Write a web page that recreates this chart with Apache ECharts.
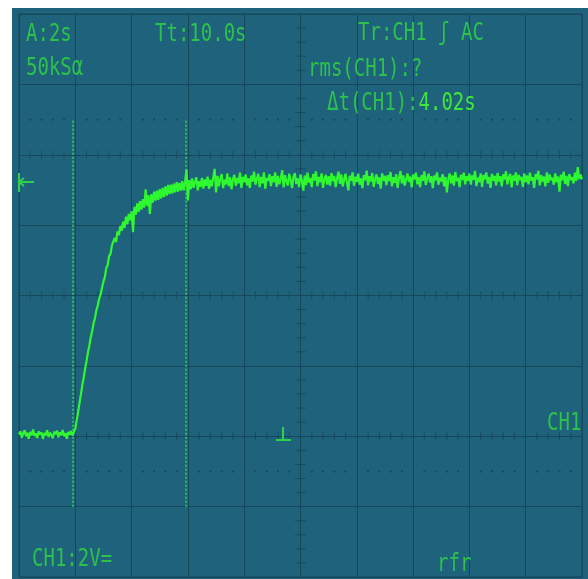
<!DOCTYPE html>
<html><head><meta charset="utf-8">
<script src="https://cdn.jsdelivr.net/npm/echarts@6/dist/echarts.min.js"></script>
<style>
html,body{margin:0;padding:0;background:#ffffff;width:588px;height:579px;overflow:hidden;position:relative;}
#c{position:absolute;left:12px;top:8px;width:576px;height:571px;}
</style>
</head><body><div id="c"></div>
<script>
// ---- data ----
const sampleInterval = 0.05; // seconds between samples
const timeRange = [0, 20];   // 10 div x 2 s
const timeDiv = 2;
const voltRange = [-4, 12];  // 8 div x 2 V, ground 2 div below centre
const voltDiv = 2;

// CH1 volts, t = 0.00 .. 1.90
const groundTrace = [0.05,0.14,-0.04,0.09,0.17,0.00,0.10,-0.07,0.12,0.03,0.19,0.01,0.08,-0.05,0.14,0.05,0.11,-0.08,0.09,0.02,
  0.17,-0.02,0.10,0.04,-0.06,0.13,0.06,0.16,-0.03,0.11,0.03,0.18,0.00,0.09,-0.07,0.12,0.05,0.15,0.02];
// t = 1.95 .. 6.00
const riseTrace = [0.06,0.22,0.46,0.69,0.95,1.19,1.46,1.67,1.93,2.14,2.39,2.58,2.82,2.99,3.22,3.37,3.58,3.72,3.92,4.03,
  4.22,4.40,4.52,4.78,4.86,5.12,5.18,5.42,5.38,5.64,5.52,5.82,5.72,5.98,5.84,6.10,5.92,6.24,6.02,6.32,
  6.14,6.40,5.80,6.52,6.30,6.62,6.38,6.68,6.44,6.74,6.50,7.02,6.55,6.85,6.32,6.88,6.64,6.95,6.70,6.98,
  6.72,7.02,6.76,7.06,6.80,7.10,6.84,7.14,6.88,7.15,6.90,7.18,6.93,7.22,6.95,7.20,6.98,7.25,6.99,7.22,
  7.58,6.70];
// t = 6.05 .. 20.00
const plateauTrace = [
  7.28,7.02,7.33,7.06,7.22,7.36,6.99,7.25,7.09,7.34,7.04,7.30,7.12,7.38,7.03,7.29,7.10,7.35,7.60,6.93,
  7.40,7.10,7.31,7.45,7.05,7.29,7.16,7.47,7.11,7.36,7.02,7.30,7.43,7.12,7.34,7.19,7.49,7.06,7.37,7.22,
  7.44,7.13,7.33,7.06,7.41,7.24,7.52,7.15,7.31,7.46,7.08,7.37,7.19,7.50,7.04,7.34,7.26,7.45,7.11,7.39,
  7.22,7.50,7.09,7.40,7.16,7.32,7.56,7.07,7.42,7.25,7.12,7.46,7.28,7.05,7.37,7.48,7.17,7.33,7.08,7.44,
  7.26,6.98,7.41,7.14,7.49,7.21,7.34,7.08,7.45,7.27,7.53,7.11,7.37,7.22,7.47,7.06,7.31,7.43,7.15,7.39,
  7.12,7.48,7.25,7.40,7.08,7.33,7.52,7.17,7.44,7.10,7.30,7.46,7.21,6.99,7.40,7.26,7.50,7.12,7.37,7.23,
  7.46,7.15,7.33,7.05,7.42,7.27,7.55,7.13,7.39,7.24,7.48,7.09,7.31,7.44,7.17,7.36,7.04,7.47,7.26,7.40,
  7.14,7.42,7.25,7.51,7.10,7.36,7.20,7.45,7.06,7.33,7.54,7.19,7.41,7.12,7.29,7.47,7.23,7.38,7.07,7.44,
  7.30,7.49,7.16,7.36,7.08,7.42,7.26,7.53,7.14,7.34,7.46,7.21,7.39,7.05,7.41,7.27,7.50,7.15,7.35,7.24,
  7.45,7.10,7.37,6.93,7.30,7.47,7.19,7.41,7.12,7.51,7.25,7.35,7.08,7.43,7.28,7.49,7.16,7.39,7.26,7.46,
  7.15,7.41,7.29,7.54,7.11,7.35,7.22,7.47,7.09,7.42,7.30,7.50,7.18,7.37,7.06,7.46,7.26,7.40,7.13,7.48,
  7.24,7.39,7.10,7.44,7.30,7.53,7.16,7.35,7.46,7.07,7.41,7.26,7.50,7.14,7.43,7.28,7.37,7.09,7.47,7.22,
  7.41,7.16,7.49,7.27,7.36,7.06,7.45,7.30,7.54,7.13,7.42,7.24,7.38,7.10,7.50,7.20,7.44,7.28,7.34,7.15,
  7.47,7.22,7.38,6.95,7.43,7.27,7.52,7.17,7.40,7.11,7.45,7.29,7.36,7.19,7.49,7.26,7.65,7.31,7.44,7.30];

const cursorTimes = [1.92, 5.94];   // Δt = 4.02 s
const cursorSpan = [-2, 9];         // volts covered by cursor lines
const refLevels = [9, -1];          // dotted reference rows
const tickedLevels = [0, 4, 8];     // horizontal lines carrying minor ticks
const centreTime = 10;              // vertical line carrying minor ticks

const labelsTopLeft = ['A:2s', '50kSα'];
const labelTrigger = 'Tt:10.0s';
const labelTrSource = 'Tr:CH1 ʃ AC';
const labelRms = 'rms(CH1):?';
const labelDtName = 'Δt(CH1):';
const labelDtValue = '4.02s';
const labelChannel = 'CH1';
const labelScale = 'CH1:2V=';
const labelMode = 'rfr';

// ---- styling ----
const BG = '#1f627b';
const GRIDC = '#17475b';
const TXT = '#2cc24c';
const TXT_BRIGHT = '#3ee83a';
const TRACE = '#30f830';
const FONT = '19px "DejaVu Sans Mono", "Liberation Mono", monospace';

const traceVolts = groundTrace.concat(riseTrace, plateauTrace);
const traceData = traceVolts.map((v, i) => [+(i * sampleInterval).toFixed(2), v]);

const minorT = [];
for (let k = 1; k < 50; k++) if (k % 5 !== 0) minorT.push(+(k * 0.4).toFixed(2));
const minorV = [];
for (let k = 1; k < 40; k++) if (k % 5 !== 0) minorV.push(+(voltRange[0] + k * 0.4).toFixed(2));

const hTickData = [];
tickedLevels.forEach(l => minorT.forEach(t => hTickData.push([t, l])));
const vTickData = minorV.map(v => [centreTime, v]);
const dotData = [];
refLevels.forEach(l => minorT.forEach(t => dotData.push([t, l])));

const cursorSeries = cursorTimes.map(t => ({
  type: 'line', silent: true, symbol: 'none', z: 3,
  data: [[t, cursorSpan[0]], [t, cursorSpan[1]]],
  lineStyle: { color: '#2fbf5a', width: 2, type: [2, 2] }
}));

function txt(x, y, text, fill) {
  return { type: 'text', x: x, y: y, scaleY: 1.35, z: 50,
    style: { text: text, fill: fill || TXT, font: FONT, align: 'left', verticalAlign: 'middle' } };
}
function seg(x1, y1, x2, y2) {
  return { type: 'line', z: 50, shape: { x1: x1, y1: y1, x2: x2, y2: y2 },
    style: { stroke: '#2fd04a', lineWidth: 2 } };
}

const chart = echarts.init(document.getElementById('c'), null, { renderer: 'canvas' });
chart.setOption({
  animation: false,
  backgroundColor: BG,
  grid: { left: 7, top: 6, right: 6, bottom: 2, show: true, borderColor: GRIDC, borderWidth: 1, containLabel: false },
  xAxis: { type: 'value', min: timeRange[0], max: timeRange[1], interval: timeDiv,
    axisLine: { show: false }, axisTick: { show: false }, axisLabel: { show: false },
    splitLine: { show: true, lineStyle: { color: GRIDC, width: 1 } } },
  yAxis: { type: 'value', min: voltRange[0], max: voltRange[1], interval: voltDiv,
    axisLine: { show: false }, axisTick: { show: false }, axisLabel: { show: false },
    splitLine: { show: true, lineStyle: { color: GRIDC, width: 1 } } },
  series: [
    { type: 'scatter', silent: true, symbol: 'rect', symbolSize: [1, 8], data: hTickData,
      itemStyle: { color: GRIDC }, z: 1 },
    { type: 'scatter', silent: true, symbol: 'rect', symbolSize: [11, 1], data: vTickData,
      itemStyle: { color: GRIDC }, z: 1 },
    { type: 'scatter', silent: true, symbol: 'rect', symbolSize: [2, 2], data: dotData,
      itemStyle: { color: '#15405a' }, z: 1 },
    ...cursorSeries,
    { type: 'line', silent: true, symbol: 'none', data: traceData, z: 5,
      lineStyle: { color: TRACE, width: 2.2 } }
  ],
  graphic: [
    txt(14, 26, labelsTopLeft[0]),
    txt(14, 60, labelsTopLeft[1]),
    txt(143, 26, labelTrigger),
    txt(346, 25, labelTrSource),
    txt(296, 61, labelRms),
    { type: 'text', x: 315, y: 95, scaleY: 1.35, z: 50,
      style: { text: '{a|' + labelDtName + '}{b|' + labelDtValue + '}', font: FONT,
        align: 'left', verticalAlign: 'middle',
        rich: { a: { fill: TXT, font: FONT }, b: { fill: TXT_BRIGHT, font: FONT } } } },
    txt(535, 415, labelChannel),
    txt(20, 551, labelScale),
    txt(425, 556, labelMode),
    // trigger-level marker at left edge
    seg(7, 165, 7, 184), seg(7, 174, 22, 174), seg(7, 174, 12, 170), seg(7, 174, 12, 178),
    // ground marker
    seg(271, 419, 271, 432), seg(264, 432, 279, 432)
  ]
});
</script>
</body></html>
